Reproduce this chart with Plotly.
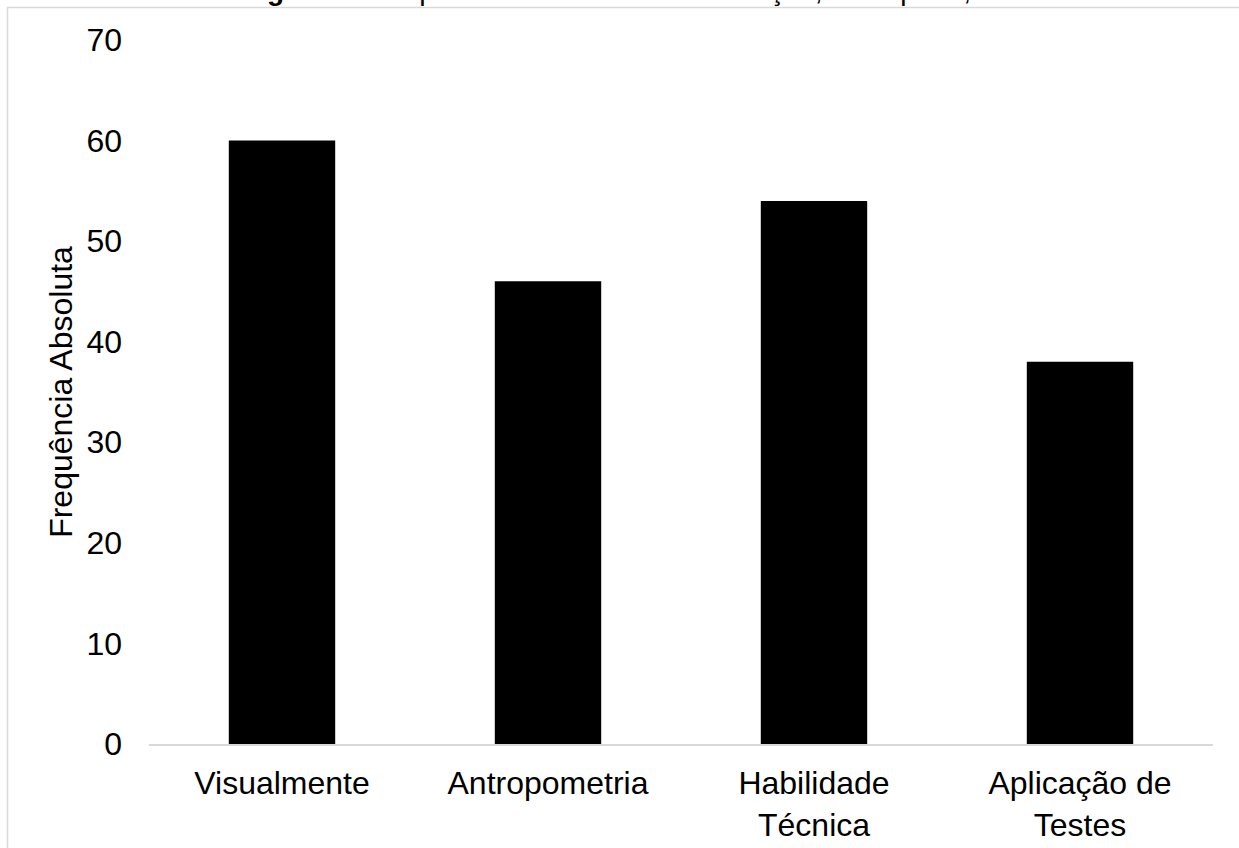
import plotly.graph_objects as go

categorias = ["Visualmente", "Antropometria", "Habilidade<br>Técnica", "Aplicação de<br>Testes"]
frequencias = [60, 46, 54, 38]
y_ticks = [0, 10, 20, 30, 40, 50, 60, 70]

titulo = "<b>Figura 1:</b> Frequência da variável identificação, valor-p = 0,77"
fonte = "Arial, Liberation Sans, sans-serif"

W, H = 1239, 848
L, R, T, B = 149, 26, 40, 104
pw, ph = W - L - R, H - T - B


def px_x(p):
    return (p - L) / pw


def px_y(p):
    return (H - B - p) / ph


fig = go.Figure(
    go.Bar(
        x=categorias,
        y=frequencias,
        marker=dict(color="#000000", line=dict(width=0)),
        hoverinfo="x+y",
    )
)

fig.update_layout(
    width=W,
    height=H,
    margin=dict(l=L, r=R, t=T, b=B),
    paper_bgcolor="white",
    plot_bgcolor="white",
    bargap=0.6,
    showlegend=False,
    font=dict(family=fonte, size=32, color="#000000"),
    xaxis=dict(
        showline=True,
        linecolor="#d9d9d9",
        linewidth=1.5,
        showgrid=False,
        ticks="",
        tickfont=dict(size=32),
        ticklabelstandoff=10,
        automargin=False,
    ),
    yaxis=dict(
        range=[0, 70],
        tickvals=y_ticks,
        showline=False,
        showgrid=False,
        zeroline=False,
        ticks="",
        tickfont=dict(size=32),
        ticklabelstandoff=26,
        automargin=False,
        title=dict(text="Frequência Absoluta", font=dict(size=32), standoff=4),
    ),
    shapes=[
        dict(
            type="rect",
            xref="paper",
            yref="paper",
            x0=px_x(7.5),
            x1=px_x(W + 20),
            y0=px_y(H + 20),
            y1=px_y(7.5),
            line=dict(color="#d9d9d9", width=1.5),
            fillcolor="rgba(0,0,0,0)",
            layer="below",
        )
    ],
    annotations=[
        dict(
            text=titulo,
            xref="paper",
            yref="paper",
            x=px_x(622),
            y=px_y(8),
            xanchor="center",
            yanchor="bottom",
            showarrow=False,
            font=dict(size=28, color="#000000"),
        )
    ],
)

fig.write_html("out.html")
